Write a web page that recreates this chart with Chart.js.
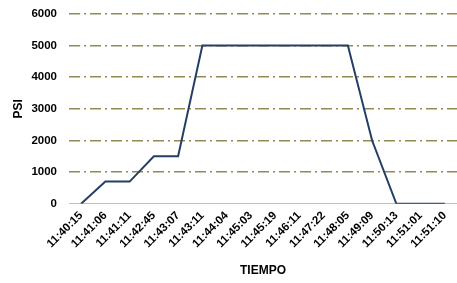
<!DOCTYPE html>
<html><head><meta charset="utf-8">
<script src="https://cdn.jsdelivr.net/npm/chart.js@4"></script>
<style>html,body{margin:0;padding:0;background:#fff}#w{width:457px;height:283px}</style>
</head><body><div id="w"><canvas id="c"></canvas></div>
<script>
const categories = ["11:40:15","11:41:06","11:41:11","11:42:45","11:43:07","11:43:11","11:44:04","11:45:03","11:45:19","11:46:11","11:47:22","11:48:05","11:49:09","11:50:13","11:51:01","11:51:10"];
const psiValues = [0,700,700,1500,1500,5000,5000,5000,5000,5000,5000,5000,2000,0,0,0];
const yTicks = [0,1000,2000,3000,4000,5000,6000];
const F = "'Liberation Sans', Arial, sans-serif";
new Chart(document.getElementById('c'), {
  type: 'line',
  data: { labels: categories, datasets: [{ data: psiValues, borderColor: '#243F66', borderWidth: 2, pointRadius: 0, tension: 0, fill: false }] },
  options: {
    responsive: true, maintainAspectRatio: false, animation: false,
    layout: { padding: { left: 0, right: 0, top: 14, bottom: 1 } },
    plugins: { legend: { display: false }, tooltip: { enabled: false } },
    scales: {
      x: {
        offset: true,
        afterFit: s => { s.paddingLeft = 0; s.paddingRight = 0; },
        grid: { display: false, drawTicks: false },
        border: { display: true, color: '#BFBFBF', width: 1 },
        ticks: { maxRotation: 45, minRotation: 45, autoSkip: false, color: '#000', padding: 5, font: { family: F, size: 11.5, weight: 'bold' } },
        title: { display: true, text: 'TIEMPO', color: '#000', padding: { top: 8 }, font: { family: F, size: 12, weight: 'bold' } }
      },
      y: {
        min: 0, max: 6000,
        afterFit: s => { s.width = 69; s.paddingTop = 0; s.paddingBottom = 0; },
        afterBuildTicks: s => { s.ticks = yTicks.map(v => ({ value: v })); },
        grid: { drawTicks: false, color: c => c.tick && c.tick.value === 0 ? 'rgba(0,0,0,0)' : '#948A54', lineWidth: 1.5 },
        border: { display: false, dash: [11, 4, 2, 4] },
        ticks: { color: '#000', padding: 12, callback: v => String(v), font: { family: F, size: 11.5, weight: 'bold' } },
        title: { display: true, text: 'PSI', color: '#000', padding: { top: 11, bottom: 0 }, font: { family: F, size: 12, weight: 'bold' } }
      }
    }
  }
});
</script></body></html>
